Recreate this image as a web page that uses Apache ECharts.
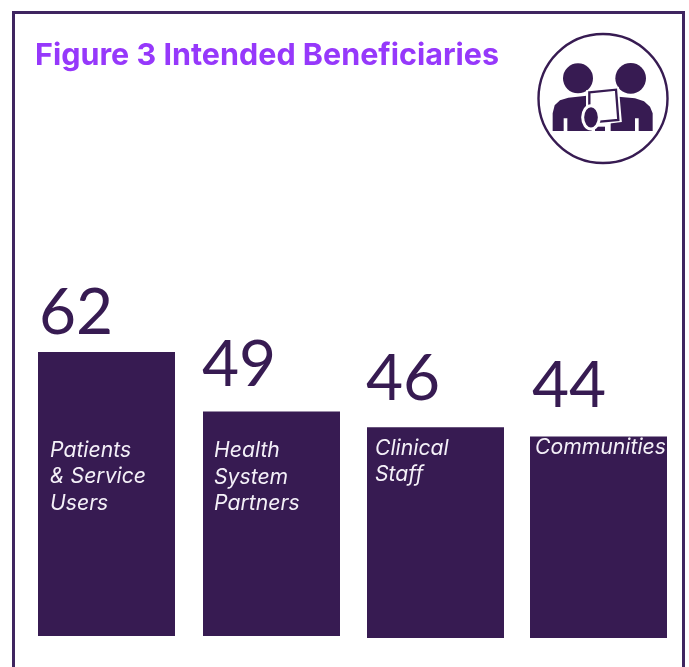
<!DOCTYPE html>
<html>
<head>
<meta charset="utf-8">
<style>html,body{margin:0;padding:0;background:#fff}#chart{width:689px;height:667px}</style>
<script src="https://cdn.jsdelivr.net/npm/echarts@6/dist/echarts.min.js"></script>
</head>
<body>
<div id="chart"></div>
<script>
// Beneficiary groups and the number of projects naming each one
const categories = ['Patients\n& Service\nUsers', 'Health\nSystem\nPartners', 'Clinical\nStaff', 'Communities'];
const counts = [62, 49, 46, 44];
const titleText = 'Figure 3 Intended Beneficiaries';

const INK = '#371b52';
const FRAME = '#3f2560';
const VIOLET = '#9638fb';
const UNIT_PX = 4.58;       // pixels per beneficiary count on both panels
const valueOffsets = [[1, -71], [-1, -78], [-1, -80], [2, -82]];
const nameOffsets = [[12, 85], [11, 26], [8, 8], [5, -2]];

// The bars sit on two slightly different baselines, so each pair has its own grid
const panels = [
  { left: 24, width: 330, bottom: 636, from: 0, to: 2 },
  { left: 354, width: 326, bottom: 638, from: 2, to: 4 }
];

function barSeries(panel, i) {
  const idx = [];
  for (let k = panel.from; k < panel.to; k++) idx.push(k);
  return [
    {
      type: 'bar', xAxisIndex: i, yAxisIndex: i, barWidth: 137, barGap: '-100%',
      silent: true, itemStyle: { color: INK },
      data: idx.map(k => ({
        value: counts[k],
        label: {
          show: true, formatter: String(counts[k]), color: INK,
          fontFamily: 'Lato', fontWeight: 400, fontSize: 64,
          position: valueOffsets[k]
        }
      }))
    },
    {
      type: 'bar', xAxisIndex: i, yAxisIndex: i, barWidth: 137, barGap: '-100%',
      silent: true, itemStyle: { color: 'transparent' }, z: 3,
      data: idx.map(k => ({
        value: counts[k],
        label: {
          show: true, formatter: categories[k], color: '#f4f0f8',
          fontFamily: 'Inter', fontStyle: 'italic', fontWeight: 400,
          fontSize: 21.2, lineHeight: 26.5, align: 'left', verticalAlign: 'top',
          position: nameOffsets[k]
        }
      }))
    }
  ];
}

const grids = panels.map(p => {
  const maxValue = 120;
  return { left: p.left, width: p.width, top: p.bottom - maxValue * UNIT_PX, height: maxValue * UNIT_PX };
});

const option = {
  animation: false,
  backgroundColor: '#fff',
  title: {
    text: titleText, left: 30, top: 35,
    textStyle: { color: VIOLET, fontFamily: 'Inter', fontWeight: 700, fontSize: 30.5 }
  },
  grid: grids,
  xAxis: panels.map((p, i) => ({
    type: 'category', gridIndex: i, data: categories.slice(p.from, p.to), show: false
  })),
  yAxis: panels.map((p, i) => ({
    type: 'value', gridIndex: i, min: 0, max: 120, show: false
  })),
  series: panels.flatMap(barSeries),
  graphic: [
    // outer frame, running off the bottom edge
    { type: 'rect', z: 0, shape: { x: 13.5, y: 12.5, width: 670, height: 700 },
      style: { fill: 'none', stroke: FRAME, lineWidth: 3 } },
    // badge with two people and a tablet
    { type: 'circle', shape: { cx: 603, cy: 98.5, r: 64.5 },
      style: { fill: '#fff', stroke: INK, lineWidth: 2.4 } },
    { type: 'group', x: 520, y: 30, scaleX: 1 / 3, scaleY: 1 / 3, children: [
      { type: 'circle', shape: { cx: 174, cy: 145, r: 45 }, style: { fill: INK } },
      { type: 'circle', shape: { cx: 332, cy: 145, r: 46 }, style: { fill: INK } },
      { type: 'polygon', style: { fill: INK }, shape: { points: [
        [98, 303], [98, 250], [104, 226], [120, 211], [145, 203], [200, 197], [215, 303],
        [142, 303], [142, 265], [131, 265], [131, 303]
      ] } },
      { type: 'polygon', style: { fill: INK }, shape: { points: [
        [295, 200], [345, 205], [372, 214], [390, 230], [398, 250], [398, 303],
        [356, 303], [356, 265], [345, 265], [345, 303], [272, 303], [272, 280], [295, 270]
      ] } },
      { type: 'rect', shape: { x: 225, y: 290, width: 30, height: 13 }, style: { fill: INK } },
      { type: 'polygon', shape: { points: [[205, 187], [290, 178], [298, 270], [240, 277], [205, 260]] },
        style: { fill: '#fff', stroke: '#fff', lineWidth: 14 } },
      { type: 'polygon', shape: { points: [[208, 187], [288, 179], [295, 270], [240, 275], [208, 275]] },
        style: { fill: '#fff', stroke: INK, lineWidth: 7 } },
      { type: 'ellipse', shape: { cx: 213, cy: 262, rx: 25, ry: 35 },
        style: { fill: INK, stroke: '#fff', lineWidth: 9 } }
    ] }
  ]
};

const chart = echarts.init(document.getElementById('chart'), null, { renderer: 'canvas' });
chart.setOption(option);
</script>
</body>
</html>
